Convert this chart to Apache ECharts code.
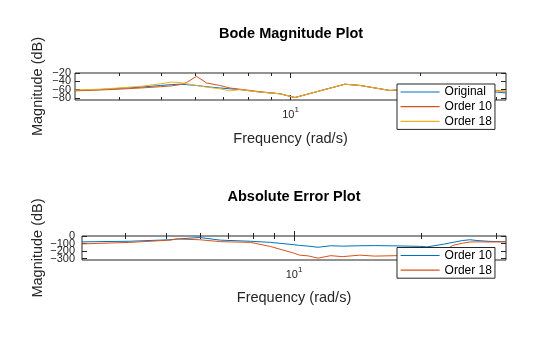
<!DOCTYPE html>
<html>
<head>
<meta charset="utf-8">
<title>Bode Magnitude Plot</title>
<script src="https://cdn.jsdelivr.net/npm/echarts@6/dist/echarts.min.js"></script>
<style>
  html, body { margin: 0; padding: 0; background: #fff; }
  #chart { width: 560px; height: 337px; }
</style>
</head>
<body>
<div id="chart"></div>
<script>
// Bode magnitude, frequency in rad/s
const bodeFreq = [3.162, 3.6, 4.0, 4.5, 5.0, 5.29, 5.54, 5.74, 6.05, 6.39, 6.85, 7.23, 7.63, 8.5, 9.45, 10.24, 13.37, 14.5, 17.0, 20, 25, 30, 31.62]
const original = [-62, -60, -57, -54, -50, -48, -47, -48, -50, -53, -56, -58, -60, -66, -70, -79, -47, -50, -62, -58, -55, -66, -68]
const order10 = [-63, -61, -59, -56, -53, -51, -48, -43, -28, -44, -50, -56, -59, -65, -70, -79, -47, -50, -62, -58, -55, -62, -64]
const order18 = [-61, -59, -56, -52, -46, -42, -43, -46, -50, -54, -58, -63, -60, -66, -70, -79, -47, -50, -62, -58, -55, -63, -64]

// absolute error of the reduced models
const errFreq = [3.162, 4.1, 5.1, 5.3, 6.0, 6.7, 7.9, 8.8, 9.95, 10.3, 10.8, 11.4, 12.2, 13.0, 14.3, 15.5, 17.5, 19.8, 20.6, 22.5, 23.7, 25.0, 26.0, 27.0, 29.0, 31.62]
const errOrder10 = [-78, -70, -50, -40, -20, -55, -70, -85, -115, -125, -135, -150, -130, -135, -130, -128, -132, -138, -145, -110, -85, -60, -50, -60, -72, -76]
const errOrder18 = [-105, -85, -55, -40, -50, -75, -85, -140, -225, -255, -265, -295, -262, -275, -255, -268, -262, -265, -262, -200, -125, -95, -80, -78, -80, -78]

// ticks (labels split in two sets, they are packed so tight that they overlap)
const minorFreqTicks = [4, 5, 6, 7, 8, 9, 20, 30]
const majorFreqTicks = [10]
const bodeTicks = [-80, -60, -40, -20]
const errTicks = [-300, -200, -100, 0]

const FONT = '"Liberation Sans", Arial, Helvetica, sans-serif'
const AXIS_COLOR = '#262626'
const BLUE = '#0072BD'
const ORANGE = '#D95319'
const YELLOW = '#EDB120'

const log10 = (arr) => arr.map(v => Math.log10(v))
const minus = (v) => String(v).replace('-', '\u2212')
const everyOther = (arr, start) => arr.filter((_, i) => i % 2 === start)

// four x axes per grid: bottom/top, major/minor ticks (log spaced)
const makeXAxes = (gridIndex, nameGap) => {
  const base = {
    type: 'value',
    gridIndex: gridIndex,
    min: 0.5,
    max: 1.5,
    axisLine: { show: false },
    splitLine: { show: false }
  }
  const tickStyle = { color: AXIS_COLOR, width: 1 }
  return [
    {
      ...base,
      position: 'bottom',
      axisTick: { inside: true, length: 5, customValues: log10(majorFreqTicks), lineStyle: tickStyle },
      axisLabel: {
        customValues: log10(majorFreqTicks),
        margin: 6,
        formatter: () => '{b|10}{s|1}',
        rich: {
          b: { fontSize: 11, fontFamily: FONT, color: AXIS_COLOR, verticalAlign: 'bottom' },
          s: { fontSize: 8, fontFamily: FONT, color: AXIS_COLOR, verticalAlign: 'bottom', padding: [0, 0, 6, 0] }
        }
      },
      name: 'Frequency (rad/s)',
      nameLocation: 'middle',
      nameGap: nameGap,
      nameMoveOverlap: false,
      nameTextStyle: { fontSize: 14.5, fontFamily: FONT, color: AXIS_COLOR }
    },
    {
      ...base,
      position: 'bottom',
      axisTick: { inside: true, length: 3, customValues: log10(minorFreqTicks), lineStyle: tickStyle },
      axisLabel: { show: false }
    },
    {
      ...base,
      position: 'top',
      axisTick: { inside: true, length: 5, customValues: log10(majorFreqTicks), lineStyle: tickStyle },
      axisLabel: { show: false }
    },
    {
      ...base,
      position: 'top',
      axisTick: { inside: true, length: 3, customValues: log10(minorFreqTicks), lineStyle: tickStyle },
      axisLabel: { show: false }
    }
  ]
}

const makeYAxes = (gridIndex, min, max, ticks, nameGap, labelMargin) => {
  const base = {
    type: 'value',
    gridIndex: gridIndex,
    min: min,
    max: max,
    axisLine: { show: false },
    splitLine: { show: false },
    axisTick: { inside: true, length: 5, customValues: ticks, lineStyle: { color: AXIS_COLOR, width: 1 } }
  }
  const label = (values) => ({
    customValues: values,
    showMinLabel: true,
    showMaxLabel: true,
    margin: labelMargin,
    fontSize: 11,
    fontFamily: FONT,
    color: AXIS_COLOR,
    formatter: minus
  })
  return [
    {
      ...base,
      position: 'left',
      axisLabel: label(everyOther(ticks, 0)),
      name: 'Magnitude (dB)',
      nameLocation: 'middle',
      nameGap: nameGap,
      nameRotate: 90,
      nameMoveOverlap: false,
      nameTextStyle: { fontSize: 14.5, fontFamily: FONT, color: AXIS_COLOR }
    },
    {
      ...base,
      position: 'left',
      axisTick: { show: false },
      axisLabel: label(everyOther(ticks, 1))
    },
    {
      ...base,
      position: 'right',
      axisLabel: { show: false }
    }
  ]
}

const toPoints = (freq, vals) => freq.map((f, i) => [Math.log10(f), vals[i]])

const lineSeries = (name, color, freq, vals, xIdx, yIdx) => ({
  name: name,
  type: 'line',
  xAxisIndex: xIdx,
  yAxisIndex: yIdx,
  symbol: 'none',
  color: color,
  lineStyle: { color: color, width: 1 },
  data: toPoints(freq, vals)
})

const legendBase = {
  orient: 'vertical',
  left: 397,
  itemWidth: 39,
  itemHeight: 12,
  itemGap: 2.7,
  padding: [2, 3, 2, 3],
  backgroundColor: '#fff',
  borderColor: AXIS_COLOR,
  borderWidth: 1,
  borderRadius: 0,
  selectedMode: false,
  itemStyle: { opacity: 0 },
  lineStyle: { width: 1.2 },
  textStyle: { fontSize: 12, fontFamily: FONT, color: '#000' }
}

const chart = echarts.init(document.getElementById('chart'))

chart.setOption({
  animation: false,
  backgroundColor: '#fff',
  textStyle: { fontFamily: FONT },
  title: [
    {
      text: 'Bode Magnitude Plot',
      left: 291,
      top: 34,
      padding: 0,
      textAlign: 'center',
      textVerticalAlign: 'middle',
      textStyle: { fontSize: 14.5, fontWeight: 'bold', fontFamily: FONT, color: '#000' }
    },
    {
      text: 'Absolute Error Plot',
      left: 294,
      top: 197,
      padding: 0,
      textAlign: 'center',
      textVerticalAlign: 'middle',
      textStyle: { fontSize: 14.5, fontWeight: 'bold', fontFamily: FONT, color: '#000' }
    }
  ],
  grid: [
    { left: 75, top: 73, width: 431, height: 27, show: true, borderColor: AXIS_COLOR, borderWidth: 1, backgroundColor: '#fff' },
    { left: 82, top: 236, width: 424, height: 24, show: true, borderColor: AXIS_COLOR, borderWidth: 1, backgroundColor: '#fff' }
  ],
  xAxis: [...makeXAxes(0, 31), ...makeXAxes(1, 30)],
  yAxis: [
    ...makeYAxes(0, -85, -20, bodeTicks, 30, 4),
    ...makeYAxes(1, -320, 0, errTicks, 37, 7)
  ],
  legend: [
    {
      ...legendBase,
      top: 84,
      data: ['Original', 'Order 10', 'Order 18']
    },
    {
      ...legendBase,
      top: 247.5,
      data: ['Err Order 10', 'Err Order 18'],
      formatter: (name) => name.replace('Err ', '')
    }
  ],
  series: [
    lineSeries('Original', BLUE, bodeFreq, original, 0, 0),
    lineSeries('Order 10', ORANGE, bodeFreq, order10, 0, 0),
    lineSeries('Order 18', YELLOW, bodeFreq, order18, 0, 0),
    lineSeries('Err Order 10', BLUE, errFreq, errOrder10, 4, 3),
    lineSeries('Err Order 18', ORANGE, errFreq, errOrder18, 4, 3)
  ]
})

window.addEventListener('resize', () => chart.resize())
</script>
</body>
</html>
